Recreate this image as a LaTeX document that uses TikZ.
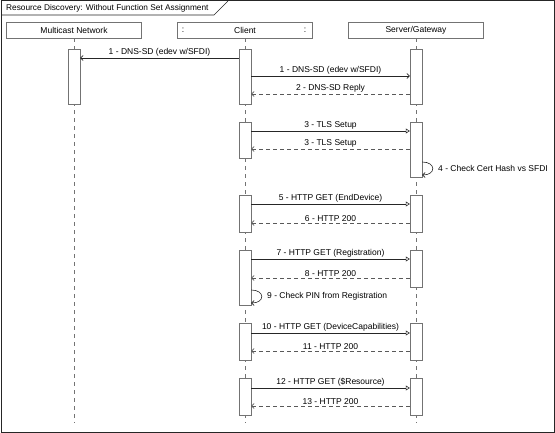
\documentclass[tikz,border=0pt]{standalone}
\usepackage{fontspec}
\setmainfont{Liberation Sans}
\usetikzlibrary{arrows.meta}
\begin{document}
\begin{tikzpicture}[x=1pt,y=-1pt,
  txt/.style={font=\fontsize{8.5}{9.5}\selectfont, inner sep=0pt},
  head/.style={draw=black!55, fill=white, minimum width=135pt, minimum height=16pt, inner sep=0pt, font=\fontsize{8.5}{9.5}\selectfont, anchor=north},
  bar/.style={draw=black!55, fill=white, minimum width=12pt, inner sep=0pt, anchor=north},
  life/.style={draw=black!55, dash pattern=on 4pt off 4pt, line width=0.6pt},
  msg/.style={draw=black!85, line width=0.6pt},
  stick/.style={msg, -{Straight Barb[length=2.5pt,width=5pt]}},
  call/.style={msg, -{Triangle[open,length=4pt,width=5pt]}},
  ret/.style={draw=black!65, line width=0.6pt, dash pattern=on 4pt off 3pt, -{Straight Barb[length=2.5pt,width=5pt]}},
  lbl/.style={font=\fontsize{8.5}{9.5}\selectfont, inner sep=1pt, above, midway}]
\useasboundingbox (0,0) rectangle (555,433);
% frame and title tab
\draw[line width=1pt, black!85] (1,1) rectangle (554,432);
\draw[black!85, line width=0.6pt] (1,15) -- (214,15) -- (228,1);
\node[txt, anchor=west, font=\fontsize{8.3}{9.5}\selectfont] (title) at (6,8.5) {Resource Discovery: Without Function Set Assignment};
% heads
\node[head] (mh) at (74,22) {Multicast Network};
\node[head] (ch) at (245,22) {Client};
\node[txt] (cl) at (183,30) {:};
\node[txt] (cr) at (305,30) {:};
\node[head] (sh) at (416,22) {Server/Gateway};
% lifelines
\coordinate (me) at (74,423);
\coordinate (ce) at (245,423);
\coordinate (se) at (416,423);
\draw[life] (mh.south) -- (me);
\draw[life] (ch.south) -- (ce);
\draw[life] (sh.south) -- (se);
% activation bars
\node[bar, minimum height=55pt] (mb1) at (74,49) {};
\node[bar, minimum height=55pt] (cb1) at (245,49) {};
\node[bar, minimum height=36pt] (cb2) at (245,122) {};
\node[bar, minimum height=37pt] (cb3) at (245,195) {};
\node[bar, minimum height=55pt] (cb4) at (245,250) {};
\node[bar, minimum height=37pt] (cb5) at (245,323) {};
\node[bar, minimum height=37pt] (cb6) at (245,378) {};
\node[bar, minimum height=55pt] (sb1) at (416,49) {};
\node[bar, minimum height=55pt] (sb2) at (416,122) {};
\node[bar, minimum height=37pt] (sb3) at (416,195) {};
\node[bar, minimum height=37pt] (sb4) at (416,250) {};
\node[bar, minimum height=37pt] (sb5) at (416,323) {};
\node[bar, minimum height=37pt] (sb6) at (416,378) {};
% messages
\draw[stick] (cb1.west |- 0,58) -- node[lbl] {1 - DNS-SD (edev w/SFDI)} (mb1.east |- 0,58);
\draw[stick] (cb1.east |- 0,76) -- node[lbl] {1 - DNS-SD (edev w/SFDI)} (sb1.west |- 0,76);
\draw[ret] (sb1.west |- 0,94) -- node[lbl] {2 - DNS-SD Reply} (cb1.east |- 0,94);
\draw[call] (cb2.east |- 0,131) -- node[lbl] {3 - TLS Setup} (sb2.west |- 0,131);
\draw[ret] (sb2.west |- 0,149) -- node[lbl] {3 - TLS Setup} (cb2.east |- 0,149);
\draw[stick] (sb2.east |- 0,162) .. controls +(14,0) and +(14,0) .. (sb2.east |- 0,175);
\node[txt, anchor=west] (l4) at (438,168.5) {4 - Check Cert Hash vs SFDI};
\draw[call] (cb3.east |- 0,204) -- node[lbl] {5 - HTTP GET (EndDevice)} (sb3.west |- 0,204);
\draw[ret] (sb3.west |- 0,223) -- node[lbl] {6 - HTTP 200} (cb3.east |- 0,223);
\draw[call] (cb4.east |- 0,259) -- node[lbl] {7 - HTTP GET (Registration)} (sb4.west |- 0,259);
\draw[ret] (sb4.west |- 0,278) -- node[lbl] {8 - HTTP 200} (cb4.east |- 0,278);
\draw[stick] (cb4.east |- 0,290) .. controls +(14,0) and +(14,0) .. (cb4.east |- 0,303);
\node[txt, anchor=west] (l9) at (267,296.5) {9 - Check PIN from Registration};
\draw[call] (cb5.east |- 0,333) -- node[lbl] {10 - HTTP GET (DeviceCapabilities)} (sb5.west |- 0,333);
\draw[ret] (sb5.west |- 0,351) -- node[lbl] {11 - HTTP 200} (cb5.east |- 0,351);
\draw[call] (cb6.east |- 0,388) -- node[lbl] {12 - HTTP GET (\$Resource)} (sb6.west |- 0,388);
\draw[ret] (sb6.west |- 0,406) -- node[lbl] {13 - HTTP 200} (cb6.east |- 0,406);
\end{tikzpicture}
\end{document}
